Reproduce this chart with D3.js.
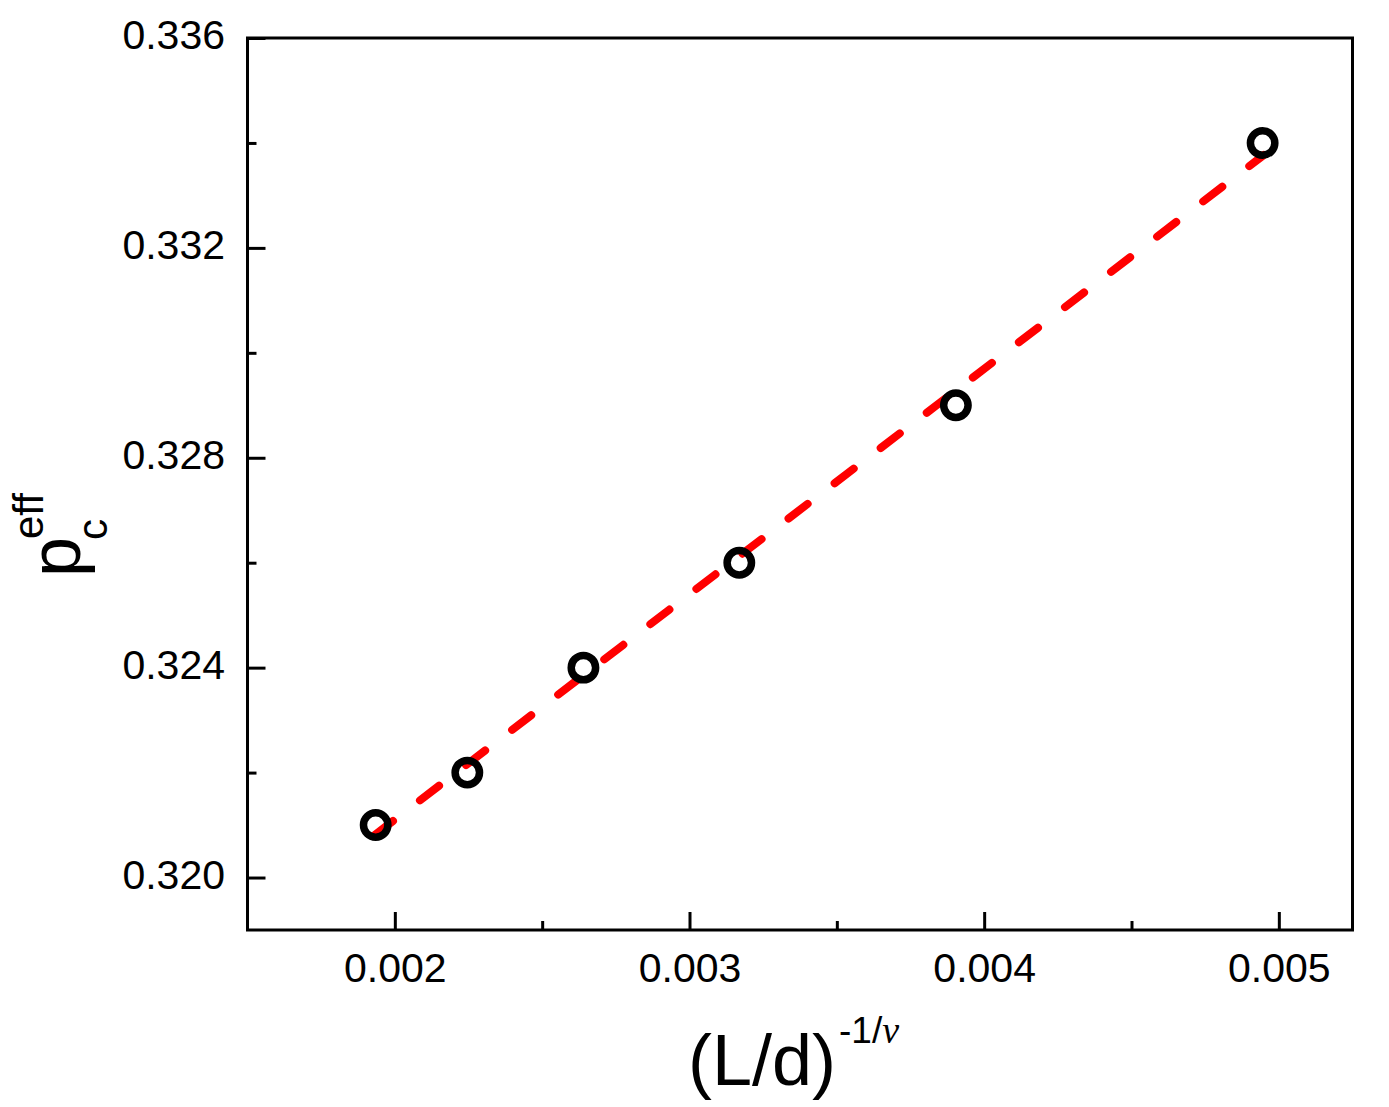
<!DOCTYPE html>
<html>
<head>
<meta charset="utf-8">
<script src="https://cdn.jsdelivr.net/npm/d3@7"></script>
<style>
  html, body { margin: 0; padding: 0; background: #fff; }
  svg { display: block; }
  text { font-family: "Liberation Sans", Arial, sans-serif; fill: #000; }
</style>
</head>
<body>
<svg id="chart" width="1389" height="1107"></svg>
<script>
// ---- data ----
const xValues = [0.001935, 0.002246, 0.00264, 0.003169, 0.003904, 0.004945];
const yValues = [0.321, 0.322, 0.324, 0.326, 0.329, 0.334];
const fitX = [0.001929, 0.004949];
const fitY = [0.3208, 0.33377];
const xMajorTicks = [0.002, 0.003, 0.004, 0.005];
const xMinorTicks = [0.0025, 0.0035, 0.0045];
const yMajorTicks = [0.320, 0.324, 0.328, 0.332, 0.336];
const yMinorTicks = [0.322, 0.326, 0.330, 0.334];
const xDomain = [0.0015, 0.00525];
const yDomain = [0.319, 0.336];

// ---- layout ----
const svg = d3.select("#chart");
const L = 247.5, R = 1352.5, T = 38, B = 930;

const x = d3.scaleLinear().domain(xDomain).range([L, R]);
const y = d3.scaleLinear().domain(yDomain).range([B, T]);

// axes (inward ticks)
const gx = svg.append("g").attr("transform", `translate(0,${B})`)
  .call(d3.axisBottom(x).tickValues(xMajorTicks).tickSize(-18).tickPadding(23)
    .tickFormat(d3.format(".3f")));
const gxm = svg.append("g").attr("transform", `translate(0,${B})`)
  .call(d3.axisBottom(x).tickValues(xMinorTicks).tickSize(-9).tickFormat(""));
const gy = svg.append("g").attr("transform", `translate(${L},0)`)
  .call(d3.axisLeft(y).tickValues(yMajorTicks).tickSize(-18).tickPadding(22.5)
    .tickFormat(d3.format(".3f")));
const gym = svg.append("g").attr("transform", `translate(${L},0)`)
  .call(d3.axisLeft(y).tickValues(yMinorTicks).tickSize(-9).tickFormat(""));

[gx, gxm, gy, gym].forEach(g => {
  g.select(".domain").remove();
  g.selectAll(".tick line").attr("stroke", "#000").attr("stroke-width", 3);
  g.selectAll(".tick text").attr("font-size", 41).attr("fill", "#000")
    .style("font-family", '"Liberation Sans", Arial, sans-serif');
});
gy.selectAll(".tick text").attr("dy", "0.26em");

// frame
svg.append("rect")
  .attr("x", L).attr("y", T).attr("width", R - L).attr("height", B - T)
  .attr("fill", "none").attr("stroke", "#000").attr("stroke-width", 3);

// fit line (red dashed)
const fitData = fitX.map((d, i) => [d, fitY[i]]);
svg.append("path")
  .datum(fitData)
  .attr("d", d3.line().x(d => x(d[0])).y(d => y(d[1])))
  .attr("fill", "none")
  .attr("stroke", "#ff0000")
  .attr("stroke-width", 8)
  .attr("stroke-linecap", "round")
  .attr("stroke-dasharray", "24,34");

// data points (open circles)
svg.append("g").selectAll("circle")
  .data(xValues.map((d, i) => [d, yValues[i]]))
  .join("circle")
  .attr("cx", d => x(d[0]))
  .attr("cy", d => y(d[1]))
  .attr("r", 12.2)
  .attr("fill", "none")
  .attr("stroke", "#000")
  .attr("stroke-width", 7.5);

// x title: (L/d)^{-1/ν}
const xt = svg.append("text").attr("x", 688).attr("y", 1085).attr("font-size", 72);
xt.append("tspan").text("(L/d)");
xt.append("tspan").attr("dx", 3).attr("dy", -42).attr("font-size", 37).text("-1/");
xt.append("tspan").attr("font-size", 38)
  .style("font-family", '"Liberation Serif", "Times New Roman", serif')
  .style("font-style", "italic").text("ν");

// y title: p_c^{eff}, rotated
const yt = svg.append("g").attr("transform", "translate(80,577) rotate(-90)");
yt.append("text").attr("x", 0).attr("y", 0).attr("font-size", 72).text("p");
yt.append("text").attr("x", 37).attr("y", 27).attr("font-size", 42).text("c");
yt.append("text").attr("x", 38).attr("y", -37).attr("font-size", 42).text("eff");
</script>
</body>
</html>
